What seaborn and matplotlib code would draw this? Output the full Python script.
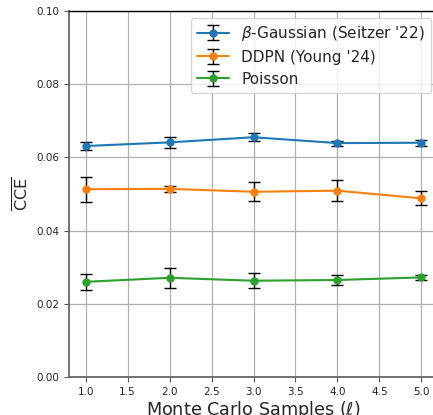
import matplotlib
matplotlib.use("Agg")
import matplotlib.pyplot as plt
import seaborn as sns
import numpy as np

samples = [1, 2, 3, 4, 5]
beta_mean = [0.0631, 0.0641, 0.0655, 0.0639, 0.0640]
beta_err = [0.0010, 0.0016, 0.0011, 0.0007, 0.0008]
ddpn_mean = [0.0513, 0.0514, 0.0506, 0.0509, 0.0488]
ddpn_err = [0.0034, 0.0009, 0.0026, 0.0028, 0.0019]
pois_mean = [0.0260, 0.0271, 0.0263, 0.0265, 0.0272]
pois_err = [0.0022, 0.0028, 0.0020, 0.0014, 0.0007]
labels = [r"$\beta$-Gaussian (Seitzer '22)", "DDPN (Young '24)", "Poisson"]

sns.set_style("ticks")
plt.rcParams['font.family'] = ['DejaVu Sans']
colors = sns.color_palette("tab10")

fig = plt.figure(figsize=(4.33, 4.15), dpi=100)
ax = fig.add_axes([0.159, 0.0916, 0.853, 0.882])

for m, e, lab, c in zip([beta_mean, ddpn_mean, pois_mean],
                        [beta_err, ddpn_err, pois_err], labels, colors[:3]):
    ax.errorbar(samples, m, yerr=e, label=lab, color=c, marker='o', markersize=5,
                ecolor='black', elinewidth=1, capsize=4, capthick=1, linewidth=1.5)

ax.set_ylim(0, 0.1)
ax.set_yticks([0.0, 0.02, 0.04, 0.06, 0.08, 0.10])
ax.set_xticks(np.arange(1.0, 5.01, 0.5))
ax.tick_params(axis='both', labelsize=7.5, length=3.5, color='#555555')
ax.grid(True, color='#b0b0b0', linewidth=0.9)
ax.set_axisbelow(True)
for s in ['left', 'bottom']:
    ax.spines[s].set_color('#666666')
    ax.spines[s].set_linewidth(1.3)
ax.spines['top'].set_color('black')
ax.spines['top'].set_linewidth(1.0)
ax.set_xlabel(r"Monte Carlo Samples ($\ell$)", fontsize=12.7, labelpad=2)
ax.set_ylabel(r"$\overline{\mathrm{CCE}}$", fontsize=11.5, labelpad=3)
ax.legend(loc='upper right', fontsize=11, framealpha=0.8, borderaxespad=0.45,
          handlelength=2.1, labelspacing=0.45)

fig.savefig("out.png", dpi=100)
